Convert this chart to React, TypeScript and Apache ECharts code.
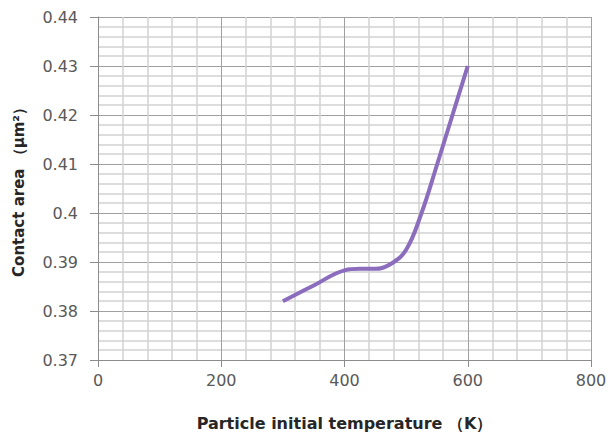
import React, { useEffect, useRef } from "react";
import * as echarts from "echarts";

const temperatures = [300, 350, 400, 425, 450, 475, 500, 525, 550, 575, 600];
const contactArea = [0.382, 0.3852, 0.3883, 0.3886, 0.3886, 0.3896, 0.3925, 0.4, 0.4098, 0.4199, 0.43];
const xTicks = { min: 0, max: 800, interval: 200 };
const yTicks = { min: 0.37, max: 0.44, interval: 0.01 };

export default function App() {
  const ref = useRef<HTMLDivElement>(null);
  useEffect(() => {
    if (!ref.current) return;
    const chart = echarts.init(ref.current, null, { renderer: "svg" });
    const font = "DejaVu Sans";
    chart.setOption({
      animation: false,
      grid: { left: 98, right: 20, top: 17, bottom: 72 },
      xAxis: {
        type: "value",
        min: xTicks.min,
        max: xTicks.max,
        interval: xTicks.interval,
        name: "Particle initial temperature （K）",
        nameLocation: "middle",
        nameGap: 55,
        nameTextStyle: { fontFamily: font, fontSize: 16, fontWeight: "bold", color: "#262626" },
        axisLine: { show: true, lineStyle: { color: "#8c8c8c", width: 1 } },
        axisTick: { show: true, length: 7, lineStyle: { color: "#8c8c8c" } },
        axisLabel: { fontFamily: font, fontSize: 16, color: "#595959", margin: 12 },
        splitLine: { show: true, lineStyle: { color: "#a0a0a0", width: 1 } },
        minorTick: { show: false, splitNumber: 5 },
        minorSplitLine: { show: true, lineStyle: { color: "#d2d2d2", width: 1.5 } },
      },
      yAxis: {
        type: "value",
        min: yTicks.min,
        max: yTicks.max,
        interval: yTicks.interval,
        name: "Contact area （μm²）",
        nameLocation: "middle",
        nameGap: 72,
        nameRotate: 90,
        nameTextStyle: { fontFamily: font, fontSize: 15, fontWeight: "bold", color: "#262626" },
        axisLine: { show: true, lineStyle: { color: "#8c8c8c", width: 1 } },
        axisTick: { show: true, length: 8, lineStyle: { color: "#8c8c8c" } },
        axisLabel: {
          fontFamily: font,
          fontSize: 16,
          color: "#595959",
          margin: 20,
          formatter: (v: number) => String(parseFloat(v.toFixed(2))),
        },
        splitLine: { show: true, lineStyle: { color: "#a0a0a0", width: 1 } },
        minorTick: { show: false, splitNumber: 5 },
        minorSplitLine: { show: true, lineStyle: { color: "#d2d2d2", width: 1.5 } },
      },
      series: [
        {
          type: "line",
          data: temperatures.map((t, i) => [t, contactArea[i]]),
          smooth: 0.4,
          showSymbol: false,
          symbol: "none",
          lineStyle: { color: "#8b6cbd", width: 4 },
        },
      ],
    });
    return () => chart.dispose();
  }, []);
  return <div ref={ref} style={{ width: 611, height: 436, position: "absolute", left: 0, top: 0 }} />;
}
